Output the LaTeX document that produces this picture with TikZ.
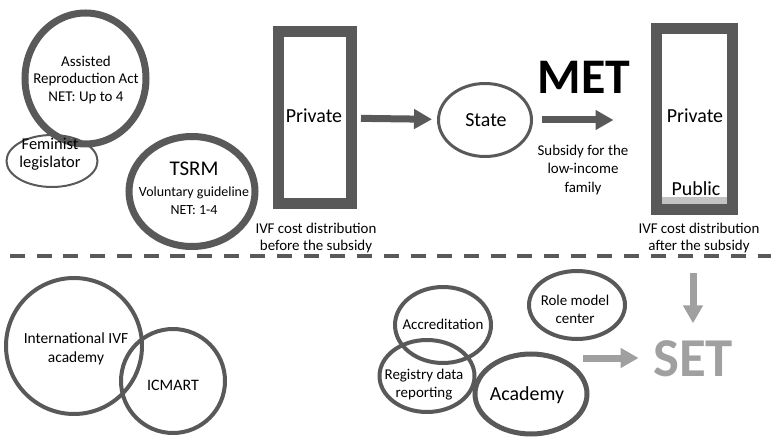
\documentclass[tikz,border=0pt]{standalone}
\usepackage{fontspec}
\setmainfont{Carlito}
\usetikzlibrary{arrows.meta,positioning,shapes.geometric}
\definecolor{ivfgrey}{RGB}{89,89,89}
\definecolor{ivflight}{RGB}{160,160,160}
\definecolor{ivfstrip}{RGB}{195,195,195}

\begin{document}
\begin{tikzpicture}[x=1bp,y=-1bp,
    every node/.style={font=\fontsize{15}{18}\selectfont,align=center},
    ring/.style={ellipse,draw=ivfgrey,inner sep=0pt},
    bar/.style={rectangle,draw=ivfgrey,line width=11bp,inner sep=0pt},
    fat/.style={ivfgrey,line width=7bp,-{Triangle[length=18bp,width=19bp]}},
    pale/.style={ivflight,line width=7bp,-{Triangle[length=18bp,width=19bp]}}]
      \useasboundingbox (0,0) rectangle (771,439);
      \node[ring,line width=7bp,minimum width=121bp,minimum height=131bp] (act) at (85.5,78.5) {};
      \node (acttext) at (86,80) {Assisted\\Reproduction Act\\NET: Up to 4};
      \node[ring,line width=2bp,minimum width=91bp,minimum height=52bp] (feminist) at (52,161) {};
      \node[font=\fontsize{16.5}{18.5}\selectfont] (femtext) at (50,154) {Feminist\\legislator};
      \node[ring,line width=7bp,minimum width=126bp,minimum height=110bp] (tsrm) at (192,191.5) {};
      \node (tsrmtext) at (194,188) {{\fontsize{21}{24}\selectfont TSRM}\\[3pt]{\fontsize{14}{17}\selectfont Voluntary guideline}\\{\fontsize{14}{17}\selectfont NET: 1-4}};
      \node[bar,minimum width=72.5bp,minimum height=172.5bp] (before) at (314.75,117.75) {};
      \node[font=\fontsize{20}{24}\selectfont] (private1) at (314,116) {Private};
      \node[font=\fontsize{15}{17}\selectfont] (cap1) at (316,238) {IVF cost distribution\\before the subsidy};
      \node[ring,line width=3bp,minimum width=93bp,minimum height=73bp] (state) at (485,120) {};
      \node[font=\fontsize{20}{24}\selectfont] (statetext) at (486,120) {State};
      \node[font=\bfseries\fontsize{50}{56}\selectfont] (met) at (584,77) {MET};
      \node[font=\fontsize{15}{18.5}\selectfont] (subsidy) at (583,170) {Subsidy for the\\low-income\\family};
      \fill[ivfstrip] (662,197) rectangle (727,204);
      \node[bar,minimum width=76.5bp,minimum height=181bp] (after) at (694.25,119) {};
      \node[font=\fontsize{20}{24}\selectfont] (private2) at (695,116) {Private};
      \node[font=\fontsize{20}{24}\selectfont] (public) at (696,189) {Public};
      \node[font=\fontsize{15}{17}\selectfont] (cap2) at (699,238) {IVF cost distribution\\after the subsidy};
      \draw[fat,shorten <=4.5bp,shorten >=5bp] (before) -- (state);
      \draw[fat,shorten <=9bp,shorten >=37bp] (state) -- (after.west |- state);
      \coordinate (dashl) at (10,256);
      \coordinate (dashr) at (771,256);
      \draw[ivfgrey,line width=4.5bp,dash pattern=on 15bp off 11.7bp] (dashl) -- (dashr);
      \node[ring,line width=4bp,minimum width=136bp,minimum height=136bp] (intl) at (74,346) {};
      \node[font=\fontsize{15.5}{19}\selectfont] (intltext) at (76,349) {International IVF\\academy};
      \node[ring,line width=4bp,minimum width=104bp,minimum height=104bp] (icmart) at (173,381) {};
      \node[font=\fontsize{16}{19}\selectfont] (icmarttext) at (173,385) {ICMART};
      \node[ring,line width=4bp,minimum width=96bp,minimum height=76bp] (accr) at (443,325) {};
      \node (accrtext) at (443,324) {Accreditation};
      \node[ring,line width=4bp,minimum width=95bp,minimum height=72bp] (registry) at (427,376) {};
      \node (regtext) at (424,385) {Registry data\\reporting};
      \node[ring,line width=5bp,minimum width=112bp,minimum height=80bp] (academy) at (531,394) {};
      \node[font=\fontsize{20}{24}\selectfont] (acadtext) at (527,395) {Academy};
      \node[ring,line width=4bp,minimum width=96bp,minimum height=68bp] (role) at (577,305) {};
      \node (roletext) at (575,309) {Role model\\center};
      \node[font=\bfseries\fontsize{55}{60}\selectfont,text=ivflight] (set) at (693,359) {SET};
      \coordinate (toset) at (583,358);
      \coordinate (downtop) at (693,273);
      \draw[pale,shorten >=11bp] (toset) -- (toset -| set.west);
      \draw[pale,shorten >=14bp] (downtop) -- (set.north);
\end{tikzpicture}
\end{document}
